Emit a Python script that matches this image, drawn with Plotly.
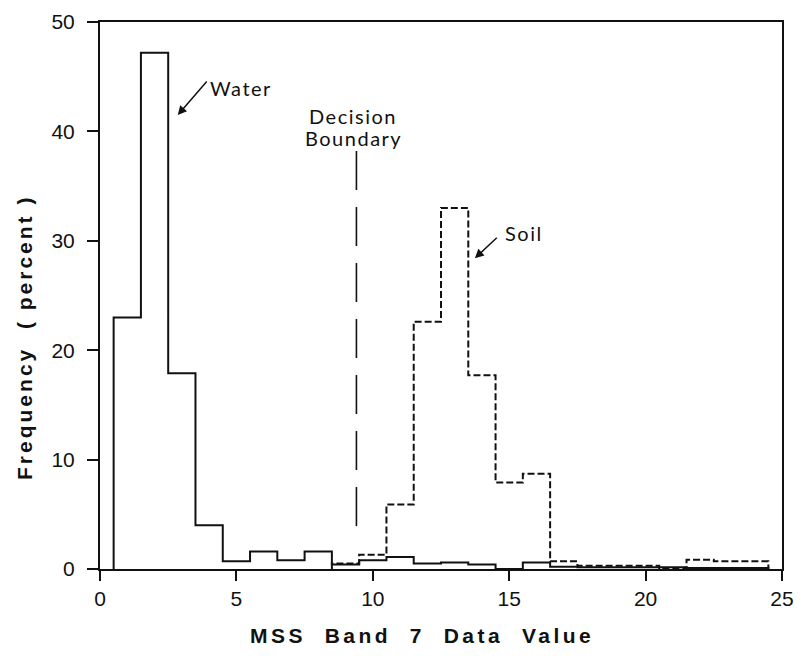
import plotly.graph_objects as go

# MSS band 7 data values (integer bins) and frequencies in percent
water_bins = list(range(1, 25))
water_pct = [23.0, 47.2, 17.9, 4.0, 0.7, 1.6, 0.8, 1.6, 0.4, 0.8, 1.1, 0.5,
             0.6, 0.4, 0.0, 0.6, 0.2, 0.15, 0.15, 0.15, 0.15, 0.1, 0.1, 0.1]

soil_bins = list(range(9, 25))
soil_pct = [0.5, 1.3, 5.9, 22.6, 33.0, 17.7, 7.9, 8.7,
            0.7, 0.3, 0.3, 0.3, 0.0, 0.85, 0.7, 0.7]

decision_value = 9.4
decision_span = [38.2, 3.8]

x_ticks = [0, 5, 10, 15, 20, 25]
y_ticks = [0, 10, 20, 30, 40, 50]

INK = "#111111"


def step_outline(bins, values):
    """Histogram outline: left edges of each bin plus the closing edge."""
    xs = [bins[0] - 0.5]
    ys = [0]
    for b, v in zip(bins, values):
        xs.append(b - 0.5)
        ys.append(v)
    xs.append(bins[-1] + 0.5)
    ys.append(0)
    return xs, ys


wx, wy = step_outline(water_bins, water_pct)
sx, sy = step_outline(soil_bins, soil_pct)

fig = go.Figure()
fig.add_trace(go.Scatter(x=wx, y=wy, mode="lines", line_shape="hv",
                         line=dict(color=INK, width=2), name="Water"))
fig.add_trace(go.Scatter(x=sx, y=sy, mode="lines", line_shape="hv",
                         line=dict(color=INK, width=2, dash="7px,3px"),
                         name="Soil"))
fig.add_trace(go.Scatter(x=[decision_value, decision_value], y=decision_span,
                         mode="lines",
                         line=dict(color=INK, width=1.6, dash="39px,17px"),
                         name="Decision Boundary"))

label_font = dict(family="Lato, Noto Sans, sans-serif", size=20, color=INK)
spaced = '<span style="letter-spacing:1.5px">{}</span>'
title_font = dict(family="Liberation Sans, Arial, sans-serif", size=21,
                  color=INK, weight="bold")

annotations = [
    # Water label and arrow
    dict(x=3.96, y=44.0, xref="x", yref="y", text=spaced.format("Water"),
         showarrow=False, xanchor="left", yanchor="middle", font=label_font),
    dict(x=2.85, y=41.5, ax=3.96, ay=44.7, xref="x", yref="y",
         axref="x", ayref="y", text="", showarrow=True, arrowhead=2,
         arrowsize=1.2, arrowwidth=1.5, arrowcolor=INK),
    # Soil label and arrow
    dict(x=14.78, y=30.7, xref="x", yref="y", text=spaced.format("Soil"),
         showarrow=False, xanchor="left", yanchor="middle", font=label_font),
    dict(x=13.74, y=28.4, ax=14.6, ay=30.4, xref="x", yref="y",
         axref="x", ayref="y", text="", showarrow=True, arrowhead=2,
         arrowsize=1.2, arrowwidth=1.5, arrowcolor=INK),
    # Decision boundary label
    dict(x=9.28, y=41.4, xref="x", yref="y", text=spaced.format("Decision"),
         showarrow=False, xanchor="center", yanchor="middle", font=label_font),
    dict(x=9.28, y=39.4, xref="x", yref="y", text=spaced.format("Boundary"),
         showarrow=False, xanchor="center", yanchor="middle", font=label_font),
    # Axis titles
    dict(x=0.472, y=-0.1215, xref="paper", yref="paper",
         text='<span style="letter-spacing:3.5px">MSS\u00a0\u00a0Band\u00a0\u00a07'
              '\u00a0\u00a0Data\u00a0\u00a0Value</span>',
         showarrow=False, xanchor="center", yanchor="middle", font=title_font),
    dict(x=-0.1116, y=0.424, xref="paper", yref="paper", textangle=-90,
         text='<span style="letter-spacing:3px">Frequency\u00a0\u00a0(\u00a0percent\u00a0)</span>',
         showarrow=False, xanchor="center", yanchor="middle", font=title_font),
]

axis_common = dict(showline=True, linecolor=INK, linewidth=2, mirror=True,
                   ticks="outside", tickcolor=INK, tickwidth=1.5,
                   showgrid=False, zeroline=False, automargin=False,
                   tickfont=dict(family="Liberation Sans, Arial, sans-serif",
                                 size=21, color=INK))

fig.update_layout(
    width=801, height=656,
    margin=dict(l=100, r=19, t=22, b=86.5, autoexpand=False),
    paper_bgcolor="white", plot_bgcolor="white",
    showlegend=False,
    xaxis=dict(range=[0, 25], tickvals=x_ticks, ticklen=10, **axis_common),
    yaxis=dict(range=[0, 50], tickvals=y_ticks, ticklen=11,
               ticklabelstandoff=8, **axis_common),
    annotations=annotations,
)

fig.write_html("out.html")
